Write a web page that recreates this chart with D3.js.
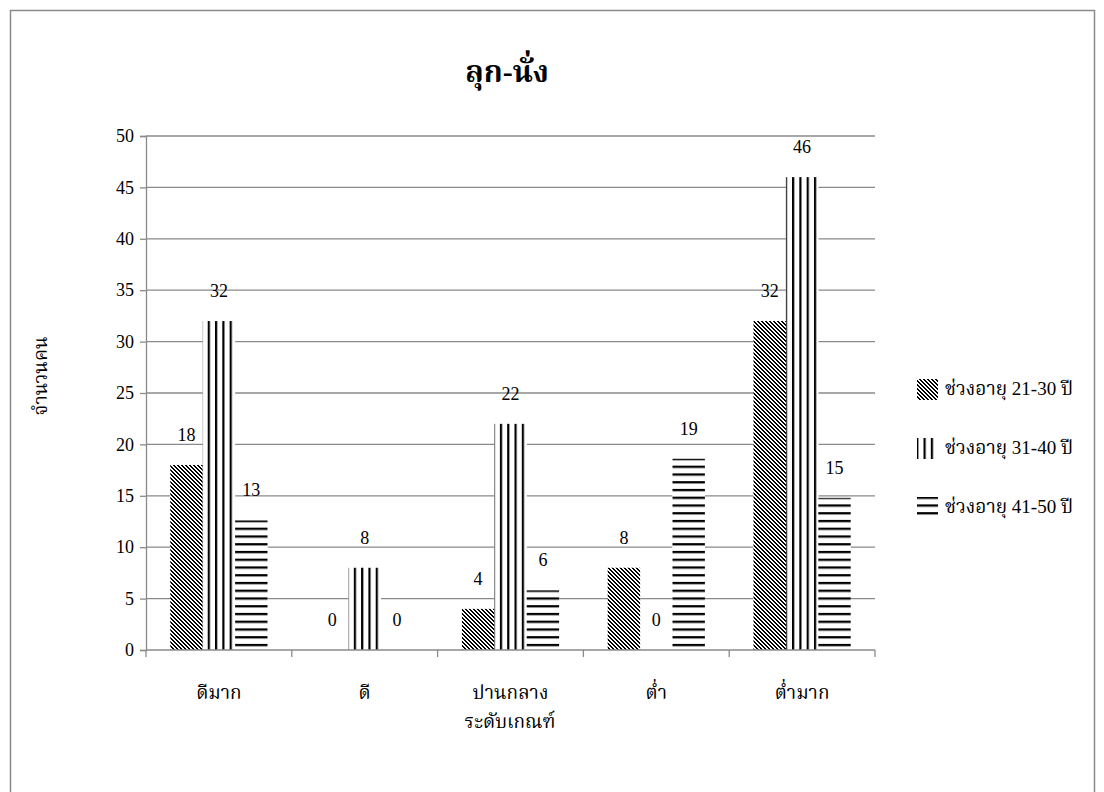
<!DOCTYPE html>
<html>
<head>
<meta charset="utf-8">
<script src="https://cdn.jsdelivr.net/npm/d3@7/dist/d3.min.js"></script>
<style>
  html, body { margin: 0; padding: 0; background: #fff; }
  svg { display: block; }
  text { font-family: "Liberation Serif", "Noto Serif Thai", "Noto Sans Thai", "TH Sarabun New", serif; fill: #000; }
</style>
</head>
<body>
<svg id="chart" width="1104" height="792"></svg>
<script>
const title = "ลุก-นั่ง";
const xTitle = "ระดับเกณฑ์";
const yTitle = "จำนวนคน";
const categories = ["ดีมาก", "ดี", "ปานกลาง", "ต่ำ", "ต่ำมาก"];
const seriesNames = ["ช่วงอายุ 21-30 ปี", "ช่วงอายุ 31-40 ปี", "ช่วงอายุ 41-50 ปี"];
const age21to30 = [18, 0, 4, 8, 32];
const age31to40 = [32, 8, 22, 0, 46];
const age41to50 = [12.6, 0, 5.8, 18.6, 14.8];
const yTicks = [0, 5, 10, 15, 20, 25, 30, 35, 40, 45, 50];

const seriesValues = [age21to30, age31to40, age41to50];
const patternIds = ["pat-diag", "pat-vert", "pat-horz"];

const svg = d3.select("#chart");
const plot = { left: 146, right: 875, top: 136, bottom: 650 };
const grey = "#8a8a8a";
const serif = '"Liberation Serif", "Noto Serif Thai", serif';

// outer frame
svg.append("rect")
  .attr("x", 10.5).attr("y", 10.5)
  .attr("width", 1084).attr("height", 800)
  .attr("fill", "#fff").attr("stroke", grey).attr("stroke-width", 1.5);

// patterns
const defs = svg.append("defs");
const pd = defs.append("pattern").attr("id", "pat-diag")
  .attr("patternUnits", "userSpaceOnUse").attr("x", 0).attr("y", 0)
  .attr("width", 4).attr("height", 4);
pd.append("rect").attr("width", 4).attr("height", 4).attr("fill", "#fff");
for (let r = 0; r < 4; r++) {
  pd.append("rect").attr("x", r).attr("y", r).attr("width", 1).attr("height", 1).attr("fill", "#000").attr("shape-rendering", "crispEdges");
  pd.append("rect").attr("x", (r + 1) % 4).attr("y", r).attr("width", 1).attr("height", 1).attr("fill", "#000").attr("shape-rendering", "crispEdges");
}
const pv = defs.append("pattern").attr("id", "pat-vert")
  .attr("patternUnits", "userSpaceOnUse").attr("x", 3.2).attr("y", 0)
  .attr("width", 7.304).attr("height", 10);
pv.append("rect").attr("width", 7.304).attr("height", 10).attr("fill", "#fff");
pv.append("rect").attr("x", 0).attr("width", 2.2).attr("height", 10).attr("fill", "#000");
const ph = defs.append("pattern").attr("id", "pat-horz")
  .attr("patternUnits", "userSpaceOnUse").attr("x", 0).attr("y", 643.9)
  .attr("width", 10).attr("height", 7.75);
ph.append("rect").attr("width", 10).attr("height", 7.75).attr("fill", "#fff");
ph.append("rect").attr("y", 0).attr("width", 10).attr("height", 2.3).attr("fill", "#000");

// scales
const x0 = d3.scaleBand().domain(categories).range([plot.left, plot.right]).paddingInner(0).paddingOuter(0);
const x1 = d3.scaleBand().domain(d3.range(seriesNames.length)).range([0, x0.bandwidth()]).paddingInner(0).paddingOuter(0.75);
const y = d3.scaleLinear().domain([0, 50]).range([plot.bottom, plot.top]);

// gridlines
svg.append("g").selectAll("line").data(yTicks.filter(d => d > 0)).join("line")
  .attr("x1", plot.left).attr("x2", plot.right)
  .attr("y1", d => y(d)).attr("y2", d => y(d))
  .attr("stroke", grey).attr("stroke-width", 1.3);

// y axis
const yAxis = svg.append("g").attr("transform", `translate(${plot.left},0)`)
  .call(d3.axisLeft(y).tickValues(yTicks).tickSize(6).tickPadding(6));
yAxis.attr("font-family", null).attr("font-size", null);
yAxis.select(".domain").attr("stroke", grey).attr("stroke-width", 1.3);
yAxis.selectAll(".tick line").attr("stroke", grey).attr("stroke-width", 1.3);
yAxis.selectAll(".tick text").style("font-size", "18px").style("font-family", serif).attr("fill", "#000");

// bars
const barData = [];
categories.forEach((c, ci) => seriesValues.forEach((vals, si) => barData.push({ c, si, v: vals[ci] })));
const gb = svg.append("g");
gb.selectAll("rect.bg").data(barData).join("rect").attr("class", "bg")
  .attr("x", d => x0(d.c) + x1(d.si)).attr("width", x1.bandwidth())
  .attr("y", d => y(d.v)).attr("height", d => y(0) - y(d.v))
  .attr("fill", "#fff");
gb.selectAll("rect.bar").data(barData).join("rect").attr("class", "bar")
  .attr("x", d => x0(d.c) + x1(d.si)).attr("width", x1.bandwidth())
  .attr("y", d => y(d.v)).attr("height", d => y(0) - y(d.v))
  .attr("fill", d => `url(#${patternIds[d.si]})`);

// x axis
const xAxis = svg.append("g").attr("transform", `translate(0,${plot.bottom})`);
xAxis.append("line").attr("x1", plot.left).attr("x2", plot.right).attr("y1", 0).attr("y2", 0)
  .attr("stroke", grey).attr("stroke-width", 1.3);
const bounds = categories.map(c => x0(c)).concat([plot.right]);
xAxis.selectAll("line.tk").data(bounds).join("line").attr("class", "tk")
  .attr("x1", d => d).attr("x2", d => d).attr("y1", 0).attr("y2", 7)
  .attr("stroke", grey).attr("stroke-width", 1.3);
xAxis.selectAll("text").data(categories).join("text")
  .attr("x", d => x0(d) + x0.bandwidth() / 2).attr("y", 49)
  .attr("text-anchor", "middle").attr("font-size", 19).text(d => d);

// data labels
svg.append("g").selectAll("text").data(barData).join("text")
  .attr("x", d => x0(d.c) + x1(d.si) + x1.bandwidth() / 2)
  .attr("y", d => y(d.v) - 24)
  .attr("text-anchor", "middle").attr("font-size", 18)
  .text(d => Math.round(d.v));

// titles
svg.append("text").attr("x", 507).attr("y", 82).attr("text-anchor", "middle")
  .attr("font-size", 30).attr("font-weight", "bold").text(title);
svg.append("text").attr("x", 510).attr("y", 728).attr("text-anchor", "middle")
  .attr("font-size", 19).text(xTitle);
svg.append("text").attr("transform", "translate(47,376) rotate(-90)")
  .attr("text-anchor", "middle").attr("font-size", 19).text(yTitle);

// legend
const lg = svg.append("g");
const legendY = [379, 438, 497];
seriesNames.forEach((name, i) => {
  lg.append("rect").attr("x", 917).attr("y", legendY[i]).attr("width", 21).attr("height", 21)
    .attr("fill", `url(#${patternIds[i]})`);
  lg.append("text").attr("x", 945).attr("y", legendY[i] + 16).attr("font-size", 19).text(name);
});
</script>
</body>
</html>
